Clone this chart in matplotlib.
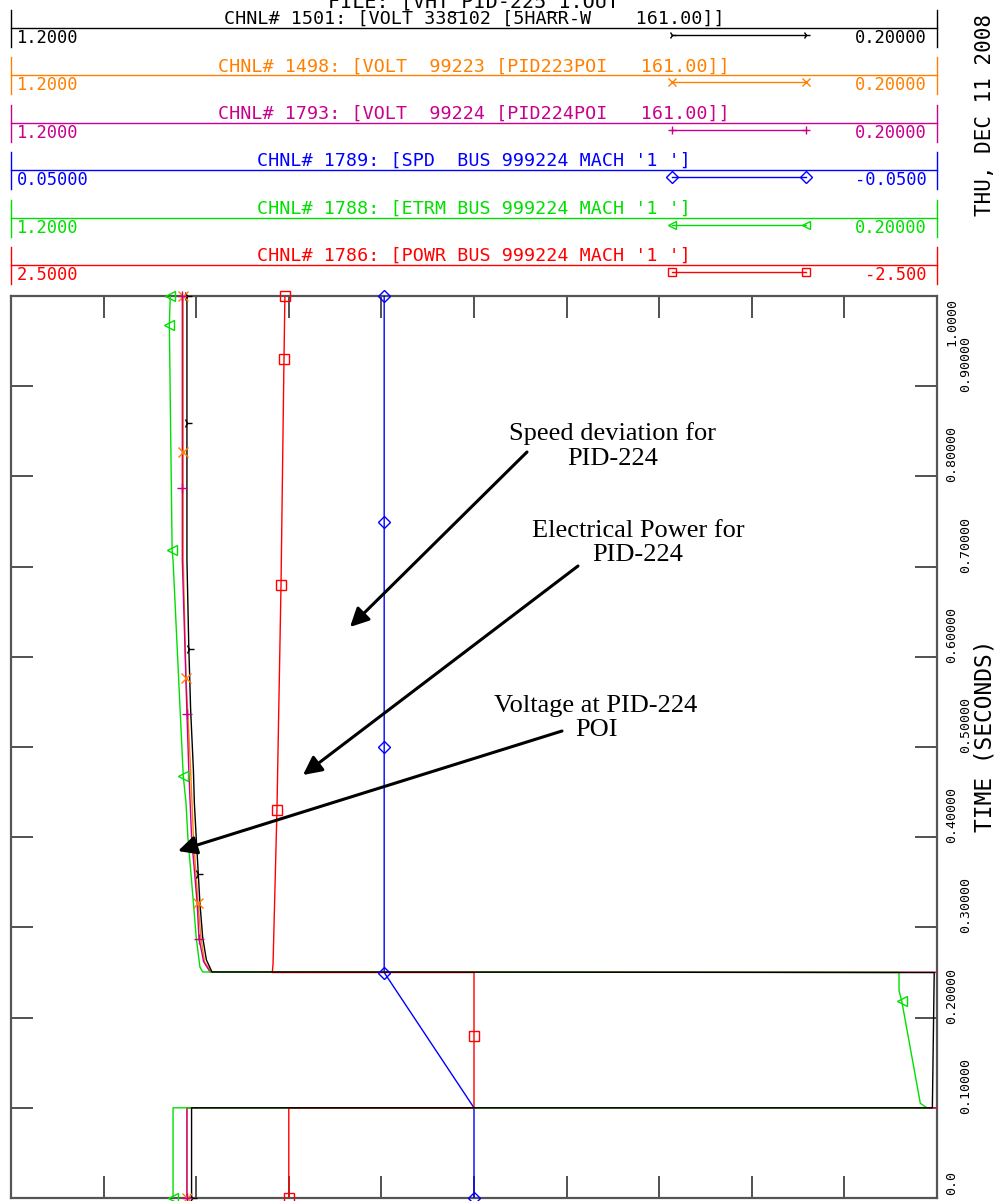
"""plot.py - PSS/E style rotated channel plot (PID-224 fault response)."""

import matplotlib

matplotlib.use("Agg")
import matplotlib.pyplot as plt
import numpy as np

W, H = 1003, 1201
MONO = "DejaVu Sans Mono"
SERIF = "Liberation Serif"

# ---- channel header data -------------------------------------------------
channel_titles = [
    "CHNL# 1501: [VOLT 338102 [5HARR-W    161.00]]",
    "CHNL# 1498: [VOLT  99223 [PID223POI   161.00]]",
    "CHNL# 1793: [VOLT  99224 [PID224POI   161.00]]",
    "CHNL# 1789: [SPD  BUS 999224 MACH '1 ']",
    "CHNL# 1788: [ETRM BUS 999224 MACH '1 ']",
    "CHNL# 1786: [POWR BUS 999224 MACH '1 ']",
]
channel_colors = ["#000000", "#ff8000", "#c8008c", "#0000ff", "#00e000", "#ff0000"]
channel_markers = ["4", "x", "+", "D", "<", "s"]
scale_left = [1.2, 1.2, 1.2, 0.05, 1.2, 2.5]
scale_right = [0.2, 0.2, 0.2, -0.05, 0.2, -2.5]
left_labels = ["1.2000", "1.2000", "1.2000", "0.05000", "1.2000", "2.5000"]
right_labels = ["0.20000", "0.20000", "0.20000", "-0.0500", "0.20000", "-2.500"]

# ---- time series (time in s, value in channel units) ---------------------
t_volt_5harr = [0.0, 0.1, 0.1, 0.25, 0.2506, 0.264, 0.289, 0.327, 0.364, 0.400,
                0.438, 0.474, 0.541, 0.611, 0.707, 0.859, 1.0]
v_volt_5harr = [1.005, 1.005, 0.205, 0.203, 0.983, 0.989, 0.993, 0.996, 0.998, 1.000,
                1.002, 1.003, 1.006, 1.008, 1.010, 1.010, 1.010]

t_volt_223 = [0.0, 0.1, 0.1, 0.25, 0.2506, 0.262, 0.289, 0.327, 0.400, 0.474,
              0.577, 0.707, 0.827, 1.0]
v_volt_223 = [1.010, 1.010, 0.02, 0.02, 0.984, 0.991, 0.995, 0.998, 1.003, 1.006,
              1.011, 1.014, 1.014, 1.014]

t_volt_224 = [0.0, 0.1, 0.1, 0.25, 0.2506, 0.262, 0.288, 0.327, 0.400, 0.474,
              0.537, 0.707, 0.788, 1.0]
v_volt_224 = [1.010, 1.010, 0.02, 0.02, 0.985, 0.992, 0.997, 0.999, 1.005, 1.008,
              1.010, 1.015, 1.015, 1.015]

t_spd = [0.0, 0.1, 0.25, 0.5, 0.75, 1.0]
v_spd = [0.0, 0.0, 0.0097, 0.0097, 0.0097, 0.0097]

t_etrm = [0.0, 0.1, 0.1, 0.105, 0.218, 0.23, 0.25, 0.2506, 0.256, 0.289, 0.327,
          0.364, 0.400, 0.438, 0.468, 0.707, 0.718, 0.968, 1.0]
v_etrm = [1.025, 1.025, 0.211, 0.218, 0.238, 0.241, 0.241, 0.993, 0.996, 1.000, 1.003,
          1.006, 1.009, 1.011, 1.014, 1.025, 1.026, 1.029, 1.028]

t_powr = [0.0, 0.1, 0.1, 0.25, 0.25, 0.26, 0.43, 0.68, 0.93, 1.0]
v_powr = [1.0, 1.0, 0.0, 0.0, 1.089, 1.085, 1.064, 1.042, 1.026, 1.021]

marker_times = [
    [0.0, 0.359, 0.609, 0.859, 1.0],
    [0.0, 0.327, 0.577, 0.827, 1.0],
    [0.0, 0.287, 0.537, 0.787, 1.0],
    [0.0, 0.25, 0.5, 0.75, 1.0],
    [0.0, 0.218, 0.468, 0.718, 0.968, 1.0],
    [0.0, 0.18, 0.43, 0.68, 0.93, 1.0],
]

series = [
    (t_volt_5harr, v_volt_5harr),
    (t_volt_223, v_volt_223),
    (t_volt_224, v_volt_224),
    (t_spd, v_spd),
    (t_etrm, v_etrm),
    (t_powr, v_powr),
]

time_ticks = [0.0, 0.1, 0.2, 0.3, 0.4, 0.5, 0.6, 0.7, 0.8, 0.9, 1.0]
time_labels = ["0.0", "0.10000", "0.20000", "0.30000", "0.40000", "0.50000",
               "0.60000", "0.70000", "0.80000", "0.90000", "1.0000"]

annotations = [
    ("Speed deviation for\nPID-224", (613, 446), (527, 452), (350, 627)),
    ("Electrical Power for\nPID-224", (638, 543), (578, 566), (303, 775)),
    ("Voltage at PID-224\nPOI", (596, 718), (562, 731), (178, 851)),
]

# plot rectangle in pixels
PL, PR, PT, PB = 11, 937, 296, 1198


def to_frac(values, left, right):
    return (left - np.asarray(values, dtype=float)) / (left - right)


fig = plt.figure(figsize=(W / 100, H / 100), dpi=100)
fig.patch.set_facecolor("white")

# header / page axes in pixel coordinates
bg = fig.add_axes([0, 0, 1, 1])
bg.set_xlim(0, W)
bg.set_ylim(H, 0)
bg.axis("off")

bg.text(474, 2, "FILE: [VHT_PID-225_1.OUT", ha="center", va="center",
        family=MONO, fontsize=14.5)

for i, title in enumerate(channel_titles):
    col = channel_colors[i]
    ly = 28 + i * 47.4
    bg.plot([PL, PR], [ly, ly], color=col, lw=1.0)
    for xb in (PL, PR):
        bg.plot([xb, xb], [ly - 18, ly + 19], color=col, lw=1.0)
    bg.text(474, ly - 9, title, ha="center", va="center", family=MONO,
            fontsize=13.2, color=col)
    bg.text(PL + 6, ly + 10, left_labels[i], ha="left", va="center", family=MONO,
            fontsize=12.3, color=col)
    bg.text(PR - 10, ly + 10, right_labels[i], ha="right", va="center", family=MONO,
            fontsize=12.3, color=col)
    bg.plot([672, 806], [ly + 7, ly + 7], color=col, lw=1.0,
            marker=channel_markers[i], markersize=6, mfc="none", mew=1.0)

bg.text(985, 115, "THU, DEC 11 2008", rotation=90, ha="center", va="center",
        family=MONO, fontsize=15)
bg.text(985, 736, "TIME (SECONDS)", rotation=90, ha="center", va="center",
        family=MONO, fontsize=16.5)

# main plot
ax = fig.add_axes([PL / W, (H - PB) / H, (PR - PL) / W, (PB - PT) / H])
ax.set_xlim(0, 1)
ax.set_ylim(0, 1)
ax.set_xticks(np.arange(1, 10) / 10)
ax.set_yticks(np.arange(1, 10) / 10)
ax.tick_params(axis="both", direction="in", length=16, width=1.1, color="#222222",
               top=True, right=True, labelbottom=False, labelleft=False)
for sp in ax.spines.values():
    sp.set_color("#555555")
    sp.set_linewidth(1.6)

for i in range(len(series)):
    t, v = series[i]
    x = to_frac(v, scale_left[i], scale_right[i])
    ax.plot(x, t, color=channel_colors[i], lw=1.0, zorder=3 + (i == 0))
    tm = np.asarray(marker_times[i])
    xm = to_frac(np.interp(tm, t, v), scale_left[i], scale_right[i])
    ax.plot(xm, tm, ls="none", marker=channel_markers[i], color=channel_colors[i],
            markersize=6.5, mfc="none", mew=1.0, zorder=5, clip_on=False)

for k, (tv, lab) in enumerate(zip(time_ticks, time_labels)):
    xcol = (952 - PL) / (PR - PL) if k % 2 == 0 else (966 - PL) / (PR - PL)
    if tv >= 1.0:
        ypos, va = 1 - 2 / (PB - PT), "top"
    else:
        ypos, va = max(tv - 6 / (PB - PT), 3 / (PB - PT)), "bottom"
    ax.text(xcol, ypos, lab, rotation=90, ha="center", va=va, family=MONO,
            fontsize=9.5, transform=ax.get_yaxis_transform(), clip_on=False)

# annotation overlay
ov = fig.add_axes([0, 0, 1, 1])
ov.set_xlim(0, W)
ov.set_ylim(H, 0)
ov.axis("off")
ov.patch.set_alpha(0)
for text, center, start, tip in annotations:
    ov.text(center[0], center[1], text, ha="center", va="center", family=SERIF,
            fontsize=19, multialignment="center", linespacing=1.15)
    ov.annotate("", xy=tip, xytext=start,
                arrowprops=dict(arrowstyle="-|>", lw=2.2, color="black",
                                mutation_scale=28, shrinkA=0, shrinkB=0))

fig.savefig("out.png", dpi=100)
